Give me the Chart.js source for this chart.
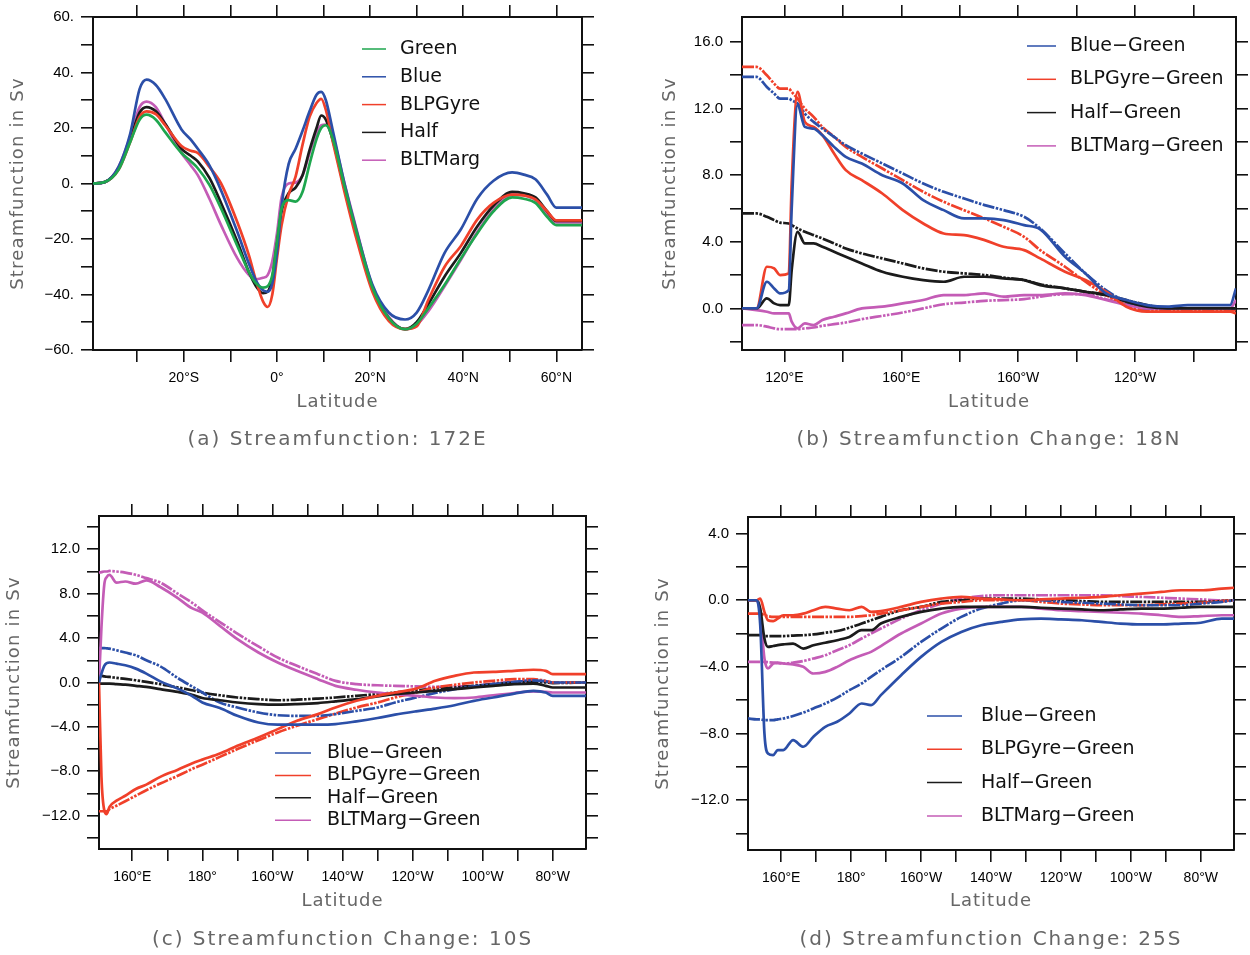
<!DOCTYPE html>
<html>
<head>
<meta charset="utf-8">
<script src="https://cdn.jsdelivr.net/npm/chart.js@4.4.1/dist/chart.umd.min.js"></script>
<style>
  body { margin: 0; background: #fff; }
  #page { position: relative; width: 1250px; height: 955px; }
  canvas { position: absolute; }
</style>
</head>
<body>
<div id="page">
  <canvas id="chartA" width="625" height="477" style="left:0;top:0"></canvas>
  <canvas id="chartB" width="625" height="477" style="left:625px;top:0"></canvas>
  <canvas id="chartC" width="625" height="477" style="left:0;top:478px"></canvas>
  <canvas id="chartD" width="625" height="477" style="left:625px;top:478px"></canvas>
</div>
<script>
// (a) Streamfunction at 172E, by latitude
const latA = [-39.5, -37, -34, -31.5, -29.5, -28, -26, -24, -20.5, -18.5, -17, -14.5, -12, -8.5, -6, -4.5, -3, -2, -1, 0,
  1, 2.5, 4, 5.5, 7, 8.5, 9.5, 10.5, 12, 14.5, 17, 20.5, 24, 27.5, 30, 32.5, 36, 39.5, 43, 46.5, 50.5, 53, 55.5, 58, 60, 65.5];
const greenA = [0, 0.5, 5, 15, 23, 24.8, 23, 18.5, 11, 8, 5.5, -0.5, -9, -22.5, -32, -36, -37.5, -37, -33, -21,
  -9, -6, -6.5, -3, 7, 16, 20, 21, 16, -1, -17, -37.5, -48.5, -52.5, -50.5, -45, -36.5, -27, -18, -10, -5, -5.5, -7, -12, -15, -15];
const blueA = [0, 0.5, 6, 18, 34, 37.4, 35.5, 30.5, 19.5, 15.8, 12.5, 6.5, -2.5, -17.5, -29, -35, -38.5, -39, -36, -25,
  -8, 7, 12.5, 19, 26, 32, 33, 30, 19, 0, -16.5, -36.5, -46.5, -49, -46.5, -38.5, -25, -16.5, -5.5, 1, 4, 3.2, 1.5, -4, -8.7, -8.7];
const gyreA = [0, 0.5, 5, 15, 24, 26, 25, 21, 13.5, 11.8, 11, 6, 0, -14, -26, -35, -42.5, -44.5, -40, -27,
  -15, -4, 2.5, 14, 24, 29, 30.5, 26.5, 15, -3, -19.5, -39, -49.5, -52.5, -51.5, -42, -30, -22.5, -13, -7, -4, -4.3, -5.7, -10, -13.3, -13.3];
const halfA = [0, 0.5, 5.5, 16, 25.5, 27.5, 26, 21.5, 12.5, 10, 8, 2, -7, -21, -32, -37, -39.5, -39, -34, -22,
  -10, -3.5, -1.5, 3, 12, 20, 24.5, 23, 15.5, -2, -18.5, -38, -48.5, -52.5, -50, -43.5, -33.5, -25, -15.5, -8, -3, -3.5, -5, -10, -13.5, -13.5];
const margA = [0, 0.5, 6, 17, 27.5, 29.5, 27.5, 21.5, 11, 6.5, 3, -5.5, -15, -27, -33, -34.5, -34, -33, -28, -18,
  -5, 0, 0.3, 3, 11, 18, 21, 21.2, 17, 0, -16, -37, -48, -52.5, -51, -46, -37, -27.5, -17.5, -9.5, -4, -4.3, -6, -11, -14, -14];

// (b) Streamfunction change at 18N, by longitude (degrees east); *2 = dash-dot curves
const lonB = [105.5, 110.5, 114, 116.5, 118.5, 121.5, 122.5, 124.5, 127, 130, 133, 137, 141, 146.5, 153.5, 160.5, 167.5,
  174.5, 181.5, 188.5, 195, 202, 207.5, 216, 223, 230, 237, 244, 251, 258, 265, 272.5, 274.5];
const blueB = [0, 0, 1.6, 1.2, 0.9, 1.1, 6, 12.2, 10.9, 10.8, 10.4, 9.7, 9.1, 8.7, 8.0, 7.5, 6.5,
  5.9, 5.4, 5.4, 5.3, 5.0, 4.75, 3.1, 2.1, 0.9, 0.5, 0.2, 0.1, 0.2, 0.2, 0.2, 1.2];
const blueB2 = [13.9, 13.9, 13.3, 12.9, 12.6, 12.6, 12.5, 12.3, 11.7, 11.2, 10.8, 10.3, 9.8, 9.3, 8.7, 8.1, 7.5,
  7.0, 6.6, 6.2, 5.9, 5.5, 4.8, 3.3, 2.1, 1.1, 0.4, 0, 0, 0, 0, 0, 0];
const gyreB = [0, 0, 2.5, 2.4, 2.0, 2.1, 7.5, 13, 11.2, 10.9, 10.4, 9.3, 8.3, 7.7, 6.9, 5.9, 5.1,
  4.5, 4.4, 4.1, 3.7, 3.5, 3.0, 2.2, 1.7, 1.0, 0.1, -0.2, -0.2, -0.2, -0.2, -0.2, -0.3];
const gyreB2 = [14.5, 14.5, 14.0, 13.5, 13.2, 13.2, 13.0, 12.6, 12.0, 11.5, 10.9, 10.3, 9.7, 9.1, 8.4, 7.7, 7.0,
  6.4, 5.9, 5.4, 4.9, 4.3, 3.5, 2.5, 1.6, 0.8, 0.2, -0.1, -0.1, -0.1, -0.1, -0.1, -0.1];
const halfB = [0, 0, 0.6, 0.3, 0.2, 0.2, 2.3, 4.6, 3.9, 3.9, 3.7, 3.4, 3.1, 2.7, 2.2, 1.9, 1.7,
  1.6, 1.9, 1.9, 1.8, 1.7, 1.4, 1.2, 1.0, 0.8, 0.4, 0.1, 0, 0, 0, 0, 0];
const halfB2 = [5.7, 5.7, 5.5, 5.3, 5.15, 5.1, 5.0, 4.8, 4.6, 4.4, 4.2, 3.9, 3.6, 3.3, 3.0, 2.7, 2.4,
  2.2, 2.1, 2.0, 1.85, 1.7, 1.45, 1.2, 1.0, 0.8, 0.5, 0.2, 0, 0, 0, 0, 0];
const margB = [0, -0.1, -0.2, -0.3, -0.3, -0.3, -0.8, -1.2, -0.9, -1.0, -0.7, -0.5, -0.3, 0, 0.1, 0.3, 0.5,
  0.8, 0.8, 0.9, 0.7, 0.8, 0.8, 0.9, 0.8, 0.5, 0.2, 0, 0, 0, 0, 0, 0.5];
const margB2 = [-1.0, -1.0, -1.1, -1.2, -1.25, -1.25, -1.25, -1.25, -1.2, -1.15, -1.05, -0.95, -0.85, -0.65, -0.45, -0.25, 0,
  0.25, 0.35, 0.45, 0.5, 0.55, 0.7, 0.85, 0.85, 0.55, 0.25, 0, 0, 0, 0, 0, 0];

// (c) Streamfunction change at 10S
const lonC = [150.5, 151.2, 152, 152.7, 153.5, 155.5, 158, 161, 164, 168, 173, 177, 180, 185, 190, 196, 201.5,
  207, 213, 218, 224, 230, 235, 241, 246.5, 252, 257.5, 263, 269, 274.5, 278, 280, 289.5];
const blueC = [0, 0.8, 1.5, 1.75, 1.8, 1.7, 1.55, 1.25, 0.8, 0.1, -0.55, -1.2, -1.8, -2.3, -3, -3.6, -3.8,
  -3.8, -3.8, -3.75, -3.5, -3.2, -2.9, -2.6, -2.35, -2.05, -1.65, -1.35, -1, -0.75, -0.9, -1.2, -1.2];
const blueC2 = [3.1, 3.1, 3.1, 3.08, 3.05, 2.9, 2.7, 2.45, 2.0, 1.45, 0.4, -0.35, -0.9, -1.8, -2.25, -2.7, -2.95,
  -3, -3, -2.85, -2.55, -2.25, -1.8, -1.35, -0.95, -0.6, -0.35, -0.15, 0.05, 0.2, 0.1, 0, 0];
const gyreC = [0, -8.5, -11.5, -11.85, -11.2, -10.65, -10.2, -9.6, -9.2, -8.5, -7.85, -7.3, -6.95, -6.4, -5.7, -4.95, -4.2,
  -3.45, -2.85, -2.25, -1.65, -1.2, -0.9, -0.55, 0.15, 0.6, 0.9, 0.95, 1.05, 1.15, 1.05, 0.75, 0.75];
const gyreC2 = [-11.6, -11.6, -11.6, -11.6, -11.4, -11.1, -10.7, -10.2, -9.7, -9.1, -8.4, -7.8, -7.4, -6.7, -6.0, -5.2, -4.5,
  -3.9, -3.3, -2.8, -2.25, -1.8, -1.35, -0.9, -0.45, -0.2, 0, 0.15, 0.3, 0.3, 0.15, 0, 0];
const halfC = [-0.1, -0.1, -0.1, -0.1, -0.1, -0.15, -0.2, -0.3, -0.4, -0.6, -0.85, -1.1, -1.4, -1.6, -1.8, -1.95, -2,
  -1.95, -1.85, -1.7, -1.5, -1.25, -1.05, -0.9, -0.75, -0.6, -0.45, -0.3, -0.15, -0.1, -0.3, -0.45, -0.45];
const halfC2 = [0.6, 0.6, 0.55, 0.52, 0.5, 0.42, 0.33, 0.2, 0.05, -0.15, -0.45, -0.7, -0.9, -1.15, -1.35, -1.5, -1.6,
  -1.55, -1.45, -1.35, -1.2, -1.05, -0.9, -0.7, -0.55, -0.45, -0.3, -0.15, 0, 0.05, 0, -0.05, 0];
const margC = [0, 5, 8.8, 9.5, 9.7, 9.0, 9.1, 8.9, 9.2, 8.6, 7.6, 6.7, 6.3, 5.1, 3.9, 2.7, 1.8,
  1.05, 0.3, -0.3, -0.65, -0.9, -1.05, -1.2, -1.35, -1.4, -1.35, -1.15, -0.95, -0.8, -0.85, -0.9, -0.9];
const margC2 = [9.9, 9.95, 10, 10, 10.05, 10, 9.9, 9.7, 9.4, 9, 8, 7.2, 6.5, 5.45, 4.4, 3.25, 2.25,
  1.5, 0.75, 0.15, -0.15, -0.25, -0.3, -0.35, -0.4, -0.35, -0.3, -0.1, 0.05, 0.15, 0.1, 0, 0];

// (d) Streamfunction change at 25S
const lonD = [150.5, 153, 154, 155.2, 156.2, 157.7, 159, 160.6, 163.4, 166.3, 169.2, 172.6, 176, 179.5, 183, 185.7, 188.5,
  194.3, 200, 205.8, 211.5, 217.2, 223, 228.6, 234.3, 240, 246, 251.5, 257, 263, 268.7, 274.4, 280, 286, 289.5];
const blueD = [0, 0, -1.5, -8, -9.2, -9.3, -9.0, -9.0, -8.4, -8.8, -8.2, -7.6, -7.3, -6.8, -6.2, -6.3, -5.7,
  -4.5, -3.4, -2.5, -1.9, -1.5, -1.3, -1.15, -1.1, -1.15, -1.2, -1.3, -1.4, -1.45, -1.45, -1.4, -1.35, -1.1, -1.1];
const blueD2 = [-7.1, -7.15, -7.15, -7.2, -7.2, -7.2, -7.15, -7.1, -6.95, -6.75, -6.5, -6.2, -5.85, -5.4, -5.0, -4.6, -4.2,
  -3.4, -2.5, -1.7, -1.0, -0.5, -0.2, 0, 0, -0.1, -0.15, -0.2, -0.25, -0.3, -0.3, -0.3, -0.2, -0.1, 0];
const gyreD = [0, 0, 0.1, -0.7, -1.2, -1.25, -1.1, -0.9, -0.9, -0.8, -0.6, -0.4, -0.5, -0.6, -0.4, -0.7, -0.65,
  -0.4, -0.1, 0.1, 0.2, 0.1, 0.05, 0, 0.05, 0.1, 0.15, 0.2, 0.3, 0.4, 0.5, 0.6, 0.6, 0.7, 0.75];
const gyreD2 = [-0.8, -0.8, -0.8, -0.9, -0.95, -1.0, -1.0, -1.0, -1.0, -1.0, -1.0, -1.0, -1.0, -1.0, -0.95, -0.9, -0.8,
  -0.6, -0.4, -0.2, -0.1, 0, 0, 0, -0.1, -0.2, -0.25, -0.3, -0.3, -0.3, -0.25, -0.2, -0.15, -0.05, 0];
const halfD = [0, 0, -0.5, -2.3, -2.8, -2.75, -2.7, -2.65, -2.6, -2.9, -2.7, -2.55, -2.4, -2.2, -1.8, -1.8, -1.4,
  -1.0, -0.7, -0.5, -0.4, -0.4, -0.4, -0.4, -0.45, -0.5, -0.55, -0.6, -0.55, -0.5, -0.5, -0.45, -0.4, -0.4, -0.4];
const halfD2 = [-2.1, -2.1, -2.1, -2.15, -2.15, -2.15, -2.15, -2.15, -2.12, -2.1, -2.05, -1.95, -1.85, -1.65, -1.4, -1.2, -1.0,
  -0.6, -0.4, -0.1, 0, 0.1, 0.1, 0.1, 0.05, 0, -0.05, -0.1, -0.1, -0.1, -0.1, -0.1, -0.1, -0.05, 0];
const margD = [0, 0, -0.8, -3.5, -4.1, -3.8, -3.75, -3.8, -3.85, -4.0, -4.4, -4.3, -4.0, -3.6, -3.3, -3.1, -2.75,
  -2.0, -1.4, -0.8, -0.5, -0.4, -0.4, -0.4, -0.5, -0.6, -0.65, -0.7, -0.75, -0.8, -0.9, -1.0, -0.95, -0.9, -0.9];
const margD2 = [-3.7, -3.7, -3.7, -3.7, -3.72, -3.75, -3.78, -3.8, -3.75, -3.65, -3.5, -3.3, -3.0, -2.7, -2.3, -2.0, -1.7,
  -1.1, -0.6, -0.2, 0.1, 0.25, 0.3, 0.3, 0.3, 0.3, 0.3, 0.3, 0.25, 0.2, 0.15, 0.1, 0.05, 0, 0];

// tick positions and which of them get a label
const latTicks = [-30, -20, -10, 0, 10, 20, 30, 40, 50, 60];
const latLabels = [-20, 0, 20, 40, 60];
const lonTicksB = [120, 140, 160, 180, 200, 220, 240, 260];
const lonLabelsB = [120, 160, 200, 240];
const lonTicksCD = [160, 170, 180, 190, 200, 210, 220, 230, 240, 250, 260, 270, 280];
const lonLabelsCD = [160, 180, 200, 220, 240, 260, 280];
const yTicksA = [-60, -50, -40, -30, -20, -10, 0, 10, 20, 30, 40, 50, 60];
const yLabelsA = [-60, -40, -20, 0, 20, 40, 60];
const yTicksB = [-2, 0, 2, 4, 6, 8, 10, 12, 14, 16];
const yLabelsB = [0, 4, 8, 12, 16];
const yTicksC = [-14, -12, -10, -8, -6, -4, -2, 0, 2, 4, 6, 8, 10, 12, 14];
const yLabelsC = [-12, -8, -4, 0, 4, 8, 12];
const yTicksD = [-14, -12, -10, -8, -6, -4, -2, 0, 2, 4];
const yLabelsD = [-12, -8, -4, 0, 4];

const COLORS = { green: '#1ea64e', blue: '#2b4fa8', red: '#f0402a', black: '#1b1b1b', magenta: '#c45cb6' };
const DASH = [12, 1.5, 2.5, 1.5, 2.5, 1.5];
const MINUS = '\u2212';

function fmtLat(v) { return v === 0 ? '0°' : v < 0 ? (-v) + '°S' : v + '°N'; }
function fmtLon(v) { return v === 180 ? '180°' : v < 180 ? v + '°E' : (360 - v) + '°W'; }
function fmtDot(v) { return (v < 0 ? MINUS : '') + Math.abs(v) + '.'; }
function fmtOne(v) { return (v < 0 ? MINUS : '') + Math.abs(v).toFixed(1); }

function series(xs, ys, label, color, dashed) {
  return {
    label: label,
    inLegend: !dashed,
    data: xs.map((x, i) => ({ x: x, y: ys[i] })),
    borderColor: color,
    borderWidth: 2.7,
    borderDash: dashed ? DASH : [],
    pointRadius: 0,
    cubicInterpolationMode: 'monotone',
    fill: false
  };
}

// legend drawn inside the plot, one short line + name per solid series
const lineLegend = {
  id: 'lineLegend',
  afterDraw(chart, args, o) {
    const ctx = chart.ctx;
    ctx.save();
    ctx.font = '19px "DejaVu Sans"';
    ctx.textBaseline = 'middle';
    let row = 0;
    chart.data.datasets.forEach(ds => {
      if (!ds.inLegend) return;
      const y = o.y + row * o.dy;
      ctx.strokeStyle = ds.borderColor;
      ctx.lineWidth = 1.5;
      ctx.beginPath();
      ctx.moveTo(o.x, y);
      ctx.lineTo(o.x + o.len, y);
      ctx.stroke();
      ctx.fillStyle = '#111';
      ctx.fillText(ds.label, o.x + o.len + o.gap, y);
      row++;
    });
    ctx.restore();
  }
};

// axis titles and panel caption (spaced grey text)
const panelText = {
  id: 'panelText',
  afterDraw(chart, args, o) {
    const ctx = chart.ctx;
    const a = chart.chartArea;
    const cx = (a.left + a.right) / 2;
    const cy = (a.top + a.bottom) / 2;
    ctx.save();
    ctx.fillStyle = '#666';
    ctx.textAlign = 'center';
    ctx.textBaseline = 'middle';
    ctx.font = '18px "DejaVu Sans"';
    ctx.letterSpacing = '1px';
    ctx.fillText('Latitude', cx, o.xTitleY);
    ctx.save();
    ctx.translate(o.yTitleX, cy);
    ctx.rotate(-Math.PI / 2);
    ctx.letterSpacing = '1.2px';
    ctx.fillText('Streamfunction in Sv', 0, 0);
    ctx.restore();
    ctx.font = '20px "DejaVu Sans"';
    ctx.letterSpacing = '2px';
    ctx.fillText(o.caption, cx, o.captionY);
    ctx.restore();
  }
};

function buildScales(p) {
  const grid = { drawOnChartArea: false, drawTicks: true, tickLength: 12, color: '#111', lineWidth: 1.6 };
  const border = { display: true, color: '#111', width: 2 };
  const yFont = { family: 'Liberation Sans', size: 15 };
  const xFont = { family: 'Liberation Sans', size: 14 };
  const only = list => s => { s.ticks = list.map(v => ({ value: v })); };
  const size = (k, v) => s => { s[k] = v; };
  const xBase = { type: 'linear', min: p.xMin, max: p.xMax, grid: grid, border: border, afterBuildTicks: only(p.xTicks) };
  const yBase = { type: 'linear', min: p.yMin, max: p.yMax, grid: grid, border: border, afterBuildTicks: only(p.yTicks) };
  return {
    x: Object.assign({}, xBase, {
      position: 'bottom', afterFit: size('height', p.box.bottom),
      ticks: { font: xFont, color: '#000', padding: 8, autoSkip: false, maxRotation: 0,
               callback: v => p.xLabels.includes(v) ? p.xFmt(v) : '' }
    }),
    x2: Object.assign({}, xBase, { position: 'top', afterFit: size('height', p.box.top), ticks: { display: false } }),
    y: Object.assign({}, yBase, {
      position: 'left', afterFit: size('width', p.box.left),
      ticks: { font: yFont, color: '#000', padding: 7, autoSkip: false,
               callback: v => p.yLabels.includes(v) ? p.yFmt(v) : '' }
    }),
    y2: Object.assign({}, yBase, { position: 'right', afterFit: size('width', p.box.right), ticks: { display: false } })
  };
}

function makePanel(id, p) {
  return new Chart(document.getElementById(id), {
    type: 'line',
    data: { datasets: p.datasets },
    options: {
      responsive: false,
      animation: false,
      layout: { padding: 0 },
      scales: buildScales(p),
      plugins: {
        legend: { display: false },
        tooltip: { enabled: false },
        lineLegend: p.legend,
        panelText: p.text
      }
    },
    plugins: [lineLegend, panelText]
  });
}

const diffNames = ['Blue' + MINUS + 'Green', 'BLPGyre' + MINUS + 'Green', 'Half' + MINUS + 'Green', 'BLTMarg' + MINUS + 'Green'];

makePanel('chartA', {
  datasets: [
    series(latA, greenA, 'Green', COLORS.green),
    series(latA, blueA, 'Blue', COLORS.blue),
    series(latA, gyreA, 'BLPGyre', COLORS.red),
    series(latA, halfA, 'Half', COLORS.black),
    series(latA, margA, 'BLTMarg', COLORS.magenta)
  ],
  xMin: -39.5, xMax: 65.5, xTicks: latTicks, xLabels: latLabels, xFmt: fmtLat,
  yMin: -60, yMax: 60, yTicks: yTicksA, yLabels: yLabelsA, yFmt: fmtDot,
  box: { left: 93, right: 43, top: 17, bottom: 127 },
  legend: { x: 362, y: 49, dy: 27.8, len: 24, gap: 14 },
  text: { xTitleY: 402, yTitleX: 18, captionY: 440, caption: '(a) Streamfunction: 172E' }
});

makePanel('chartB', {
  datasets: [
    series(lonB, blueB, diffNames[0], COLORS.blue),
    series(lonB, gyreB, diffNames[1], COLORS.red),
    series(lonB, halfB, diffNames[2], COLORS.black),
    series(lonB, margB, diffNames[3], COLORS.magenta),
    series(lonB, blueB2, diffNames[0], COLORS.blue, true),
    series(lonB, gyreB2, diffNames[1], COLORS.red, true),
    series(lonB, halfB2, diffNames[2], COLORS.black, true),
    series(lonB, margB2, diffNames[3], COLORS.magenta, true)
  ],
  xMin: 105.5, xMax: 274.5, xTicks: lonTicksB, xLabels: lonLabelsB, xFmt: fmtLon,
  yMin: -2.5, yMax: 17.5, yTicks: yTicksB, yLabels: yLabelsB, yFmt: fmtOne,
  box: { left: 117, right: 14, top: 17, bottom: 127 },
  legend: { x: 402, y: 46, dy: 33.3, len: 29, gap: 14 },
  text: { xTitleY: 402, yTitleX: 45, captionY: 440, caption: '(b) Streamfunction Change: 18N' }
});

makePanel('chartC', {
  datasets: [
    series(lonC, blueC, diffNames[0], COLORS.blue),
    series(lonC, gyreC, diffNames[1], COLORS.red),
    series(lonC, halfC, diffNames[2], COLORS.black),
    series(lonC, margC, diffNames[3], COLORS.magenta),
    series(lonC, blueC2, diffNames[0], COLORS.blue, true),
    series(lonC, gyreC2, diffNames[1], COLORS.red, true),
    series(lonC, halfC2, diffNames[2], COLORS.black, true),
    series(lonC, margC2, diffNames[3], COLORS.magenta, true)
  ],
  xMin: 150.5, xMax: 289.5, xTicks: lonTicksCD, xLabels: lonLabelsCD, xFmt: fmtLon,
  yMin: -15, yMax: 15, yTicks: yTicksC, yLabels: yLabelsC, yFmt: fmtOne,
  box: { left: 99, right: 39, top: 38, bottom: 106 },
  legend: { x: 275, y: 275, dy: 22.4, len: 36, gap: 16 },
  text: { xTitleY: 423, yTitleX: 14, captionY: 462, caption: '(c) Streamfunction Change: 10S' }
});

makePanel('chartD', {
  datasets: [
    series(lonD, blueD, diffNames[0], COLORS.blue),
    series(lonD, gyreD, diffNames[1], COLORS.red),
    series(lonD, halfD, diffNames[2], COLORS.black),
    series(lonD, margD, diffNames[3], COLORS.magenta),
    series(lonD, blueD2, diffNames[0], COLORS.blue, true),
    series(lonD, gyreD2, diffNames[1], COLORS.red, true),
    series(lonD, halfD2, diffNames[2], COLORS.black, true),
    series(lonD, margD2, diffNames[3], COLORS.magenta, true)
  ],
  xMin: 150.5, xMax: 289.5, xTicks: lonTicksCD, xLabels: lonLabelsCD, xFmt: fmtLon,
  yMin: -15, yMax: 5, yTicks: yTicksD, yLabels: yLabelsD, yFmt: fmtOne,
  box: { left: 123, right: 16, top: 39, bottom: 105 },
  legend: { x: 302, y: 238, dy: 33.3, len: 35, gap: 19 },
  text: { xTitleY: 423, yTitleX: 38, captionY: 462, caption: '(d) Streamfunction Change: 25S' }
});
</script>
</body>
</html>
